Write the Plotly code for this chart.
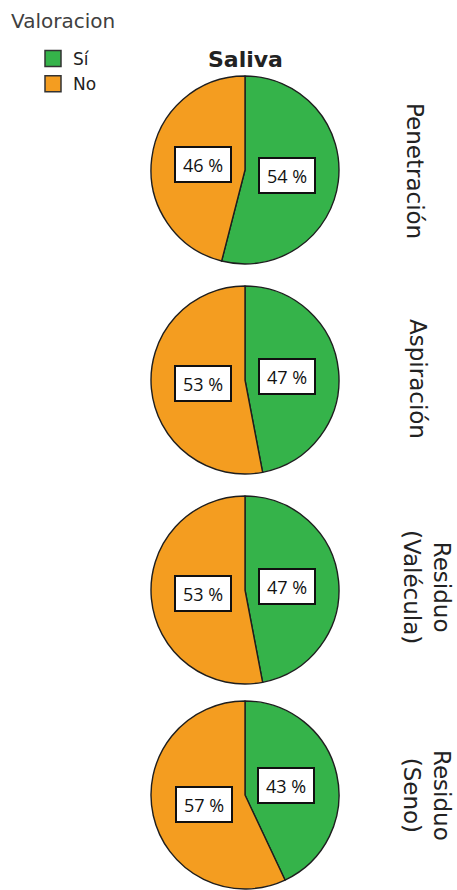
import math
import plotly.graph_objects as go

W, H = 457, 890

# Data
title = "Saliva"
legend_title = "Valoracion"
categories = ["Sí", "No"]
panels = ["Penetración", "Aspiración", "Residuo<br>(Valécula)", "Residuo<br>(Seno)"]
si_pct = [54, 47, 47, 43]
no_pct = [46, 53, 53, 57]

colors = ["#35b34a", "#f49d20"]
edge = "#1e1e1e"

# layout in pixels
cx = 245
centers_y = [170, 380, 590, 795]
radius = 94
side_x = [415, 418, 427, 427]
side_y = [171, 379, 587, 795]

SIDE_FONT = "DejaVu Sans, Verdana, sans-serif"
BOX_FONT = "Open Sans, Noto Sans, sans-serif"


def px(x):
    return min(max(x / W, 0.0), 1.0)


def py(y):
    return min(max(1 - y / H, 0.0), 1.0)


fig = go.Figure()
annotations = []

for i, (name, s, n) in enumerate(zip(panels, si_pct, no_pct)):
    cy = centers_y[i]
    fig.add_trace(go.Pie(
        labels=categories,
        values=[s, n],
        sort=False,
        direction="clockwise",
        rotation=0,
        marker=dict(colors=colors, line=dict(color=edge, width=1.4)),
        textinfo="none",
        hoverinfo="label+percent",
        showlegend=False,
        domain=dict(x=[px(cx - radius), px(cx + radius)],
                    y=[py(cy + radius), py(cy - radius)]),
    ))
    # value boxes placed at the midpoint of each slice
    total = s + n
    start = 0.0
    for v in (s, n):
        mid = (start + v / 2) / total * 2 * math.pi
        start += v
        lx = cx + 0.45 * radius * math.sin(mid)
        ly = cy - 0.45 * radius * math.cos(mid)
        annotations.append(dict(
            x=px(lx), y=py(ly), xref="paper", yref="paper",
            text=f"{v} %", showarrow=False,
            font=dict(family=BOX_FONT, size=18, color="#111"),
            bgcolor="white", bordercolor="#111", borderwidth=2, borderpad=2,
            width=50, height=29, align="center", valign="middle",
            xanchor="center", yanchor="middle",
        ))
    annotations.append(dict(
        x=px(side_x[i]), y=py(side_y[i]), xref="paper", yref="paper",
        text=name, showarrow=False, textangle=90,
        font=dict(family=SIDE_FONT, size=23, color="#222"),
        xanchor="center", yanchor="middle",
    ))

annotations.append(dict(
    x=px(cx), y=py(60), xref="paper", yref="paper",
    text=f"<b>{title}</b>", showarrow=False,
    font=dict(family=SIDE_FONT, size=22, color="#222"),
    xanchor="center", yanchor="middle",
))

# legend heading
annotations.append(dict(
    x=px(9), y=py(21), xref="paper", yref="paper",
    text=legend_title, showarrow=False,
    font=dict(family=SIDE_FONT, size=20, color="#404040"),
    xanchor="left", yanchor="middle",
))

# legend entries (one per category, same colours as the slices)
for lab, col in zip(categories, colors):
    fig.add_trace(go.Scatter(
        x=[None], y=[None], mode="markers", name=lab,
        marker=dict(symbol="square", size=16, color=col,
                    line=dict(color="#333", width=1.5)),
        hoverinfo="skip",
    ))

fig.update_xaxes(visible=False)
fig.update_yaxes(visible=False)

fig.update_layout(
    width=W, height=H,
    margin=dict(l=0, r=0, t=0, b=0),
    paper_bgcolor="white",
    plot_bgcolor="white",
    annotations=annotations,
    legend=dict(
        x=px(8), y=py(41), xanchor="left", yanchor="top",
        font=dict(family=SIDE_FONT, size=17, color="#222"),
        bgcolor="rgba(0,0,0,0)",
        indentation=25,
        itemsizing="trace",
        tracegroupgap=0,
    ),
)

fig.write_html("out.html")
